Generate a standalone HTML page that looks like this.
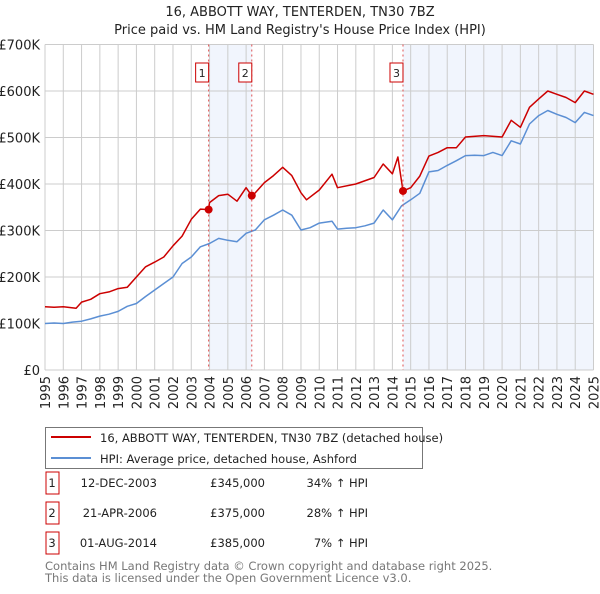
<!DOCTYPE html>
<html><head><meta charset="utf-8">
<style>
body{margin:0;background:#fff;font-family:"DejaVu Sans","Liberation Sans",sans-serif;}
svg text{font-family:"DejaVu Sans","Liberation Sans",sans-serif;}
</style></head>
<body>
<svg id="chart" width="600" height="590" viewBox="0 0 600 590" xmlns="http://www.w3.org/2000/svg">
<text x="300" y="16" text-anchor="middle" font-size="13" fill="#222">16, ABBOTT WAY, TENTERDEN, TN30 7BZ</text>
<text x="300" y="34" text-anchor="middle" font-size="13" fill="#222">Price paid vs. HM Land Registry's House Price Index (HPI)</text>
<g id="plot"></g>
<g id="legend">
<rect x="45.5" y="427.5" width="377" height="41" fill="#fff" stroke="#777"/>
<line x1="51" y1="437" x2="91" y2="437" stroke="#cc0000" stroke-width="2"/>
<text x="100" y="442" font-size="11.5" fill="#222">16, ABBOTT WAY, TENTERDEN, TN30 7BZ (detached house)</text>
<line x1="51" y1="458" x2="91" y2="458" stroke="#5b8fd4" stroke-width="2"/>
<text x="100" y="463" font-size="11.5" fill="#222">HPI: Average price, detached house, Ashford</text>
</g>
<g id="table"></g>
<text x="45" y="570" font-size="11.5" fill="#777">Contains HM Land Registry data © Crown copyright and database right 2025.</text>
<text x="45" y="582" font-size="11.5" fill="#777">This data is licensed under the Open Government Licence v3.0.</text>
</svg>
<script>
const hpiYears=[1995,1995.5,1996,1996.5,1997,1997.5,1998,1998.5,1999,1999.5,2000,2000.5,2001,2001.5,2002,2002.5,2003,2003.5,2004,2004.5,2005,2005.5,2006,2006.5,2007,2007.5,2008,2008.5,2009,2009.5,2010,2010.7,2011,2011.5,2012,2012.5,2013,2013.5,2014,2014.5,2015,2015.5,2016,2016.5,2017,2017.5,2018,2018.5,2019,2019.5,2020,2020.5,2021,2021.5,2022,2022.5,2023,2023.5,2024,2024.5,2025];
const hpiValues=[100,101,100,103,105,110,116,120,126,137,143,158,172,186,200,229,243,265,272,283,279,276,294,301,323,333,344,333,301,306,316,320,303,305,306,310,316,344,323,353,366,380,426,429,440,450,461,462,461,468,461,493,486,529,547,558,550,543,532,554,547];
const propYears=[1995,1995.5,1996,1996.7,1997,1997.5,1998,1998.5,1999,1999.5,2000,2000.5,2001,2001.5,2002,2002.5,2003,2003.5,2003.95,2004,2004.5,2005,2005.5,2006,2006.3,2006.5,2007,2007.5,2008,2008.5,2009,2009.3,2010,2010.7,2011,2012,2013,2013.5,2014,2014.3,2014.58,2015,2015.5,2016,2016.5,2017,2017.5,2018,2019,2020,2020.5,2021,2021.5,2022,2022.5,2023,2023.5,2024,2024.5,2025];
const propValues=[136,135,136,133,146,152,164,168,175,178,200,222,232,243,267,288,324,346,345,360,375,378,363,392,375,381,403,418,436,418,381,366,387,421,392,400,414,443,422,458,385,392,417,460,468,478,478,501,504,501,537,522,565,583,600,593,586,575,600,593];
const saleLabels=["1","2","3"];
const saleYears=[2003.95,2006.31,2014.58];
const saleValues=[345,375,385];
const saleDates=["12-DEC-2003","21-APR-2006","01-AUG-2014"];
const salePrices=["£345,000","£375,000","£385,000"];
const saleHpi=["34% ↑ HPI","28% ↑ HPI","7% ↑ HPI"];
const yTicks=[0,100,200,300,400,500,600,700];
const yTickLabels=["£0","£100K","£200K","£300K","£400K","£500K","£600K","£700K"];
const xTicks=[1995,1996,1997,1998,1999,2000,2001,2002,2003,2004,2005,2006,2007,2008,2009,2010,2011,2012,2013,2014,2015,2016,2017,2018,2019,2020,2021,2022,2023,2024,2025];

const NS="http://www.w3.org/2000/svg";
const X0=45,X1=593.5,Y0=370,Y1=44.5;
const xs=y=>X0+(y-1995)/30*(X1-X0);
const ys=v=>Y0-v/700*(Y0-Y1);
const plot=document.getElementById('plot');
function mk(tag,attrs,parent){const e=document.createElementNS(NS,tag);for(const k in attrs)e.setAttribute(k,attrs[k]);(parent||plot).appendChild(e);return e;}

// shading
let sh=mk('rect',{x:xs(saleYears[0]),y:Y1,width:xs(saleYears[1])-xs(saleYears[0]),height:Y0-Y1,fill:'#eef3fc',opacity:0.8});


let sh2=mk('rect',{x:xs(saleYears[2]),y:Y1,width:X1-xs(saleYears[2]),height:Y0-Y1,fill:'#eef3fc',opacity:0.8});



yTicks.forEach((t,i)=>{
  const g=mk('line',{x1:X0,x2:X1,y1:ys(t),y2:ys(t),stroke:'#cccccc','stroke-width':1});
  
  
  const tx=mk('text',{x:40,y:ys(t)+5,'text-anchor':'end','font-size':13,fill:'#222'});
  tx.textContent=yTickLabels[i];
  
  
});
xTicks.forEach(t=>{
  const g=mk('line',{x1:xs(t),x2:xs(t),y1:Y1,y2:Y0,stroke:'#cccccc','stroke-width':1});
  
  
  const tx=mk('text',{transform:`translate(${xs(t)+5},376) rotate(-90)`,'text-anchor':'end','font-size':13,fill:'#222'});
  tx.textContent=t;
  
  
});

function path(xa,va,color,name){
  const d=xa.map((x,i)=>(i?'L':'M')+xs(x).toFixed(1)+','+ys(va[i]).toFixed(1)).join('');
  const p=mk('path',{d:d,fill:'none',stroke:color,'stroke-width':1.5,'stroke-linejoin':'round'});
  
  
}
path(hpiYears,hpiValues,'#5b8fd4','hpi-line');
path(propYears,propValues,'#cc0000','property-line');

const table=document.getElementById('table');
saleYears.forEach((yr,i)=>{
  const vl=mk('line',{x1:xs(yr),x2:xs(yr),y1:Y1,y2:Y0,stroke:'#e05050','stroke-width':1,'stroke-dasharray':'2,3'});
  
  
  const bx=mk('rect',{x:xs(yr)-13,y:63,width:13,height:19,fill:'#fff',stroke:'#cc0000'});
  
  
  const bt=mk('text',{x:xs(yr)-6.5,y:77,'text-anchor':'middle','font-size':11,fill:'#222'});
  bt.textContent=saleLabels[i];
  
  
  const c=mk('circle',{cx:xs(yr),cy:ys(saleValues[i]),r:4,fill:'#cc0000'});
  
  
  const ry=483+i*30;
  const tb=mk('rect',{x:46,y:ry-11,width:13,height:22,fill:'#fff',stroke:'#cc0000'},table);
  
  
  const cells=[[52,'middle',saleLabels[i]],[157,'end',saleDates[i]],[265,'end',salePrices[i]],[368,'end',saleHpi[i]]];
  cells.forEach(cl=>{
    const t=mk('text',{x:cl[0],y:ry+4,'text-anchor':cl[1],'font-size':11.5,fill:'#222'},table);
    t.textContent=cl[2];
    
    
  });
});
</script>
</body></html>
